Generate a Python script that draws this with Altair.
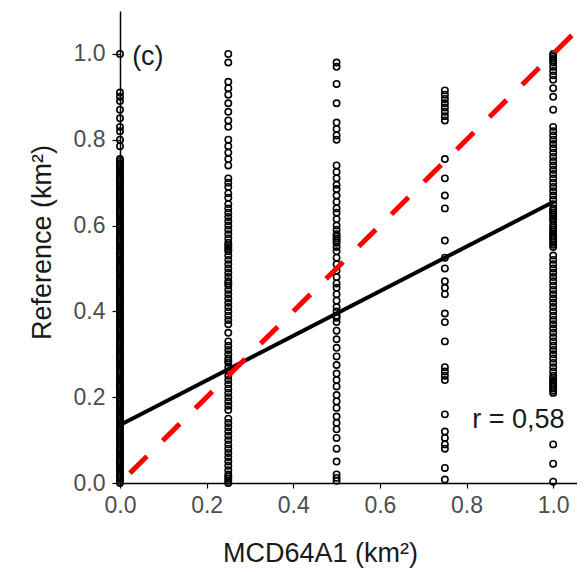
import altair as alt
import pandas as pd

# ---- data ----
y_at_000 = [1.0, 0.91, 0.90, 0.89, 0.87, 0.85, 0.83, 0.82, 0.80, 0.785,
            0.755, 0.75, 0.745, 0.74, 0.735, 0.73, 0.725, 0.72, 0.715, 0.71,
            0.705, 0.70, 0.695, 0.69, 0.685, 0.68, 0.675, 0.67, 0.665, 0.66,
            0.655, 0.65, 0.645, 0.64, 0.635, 0.63, 0.625, 0.62, 0.615, 0.61,
            0.605, 0.60, 0.595, 0.59, 0.585, 0.58, 0.575, 0.57, 0.565, 0.56,
            0.555, 0.55, 0.545, 0.54, 0.535, 0.53, 0.525, 0.52, 0.515, 0.51,
            0.505, 0.50, 0.495, 0.49, 0.485, 0.48, 0.475, 0.47, 0.465, 0.46,
            0.455, 0.45, 0.445, 0.44, 0.435, 0.43, 0.425, 0.42, 0.415, 0.41,
            0.405, 0.40, 0.395, 0.39, 0.385, 0.38, 0.375, 0.37, 0.365, 0.36,
            0.355, 0.35, 0.345, 0.34, 0.335, 0.33, 0.325, 0.32, 0.315, 0.31,
            0.305, 0.30, 0.295, 0.29, 0.285, 0.28, 0.275, 0.27, 0.265, 0.26,
            0.255, 0.25, 0.245, 0.24, 0.235, 0.23, 0.225, 0.22, 0.215, 0.21,
            0.205, 0.20, 0.195, 0.19, 0.185, 0.18, 0.175, 0.17, 0.165, 0.16,
            0.155, 0.15, 0.145, 0.14, 0.135, 0.13, 0.125, 0.12, 0.115, 0.11,
            0.105, 0.10, 0.095, 0.09, 0.085, 0.08, 0.075, 0.07, 0.065, 0.06,
            0.055, 0.05, 0.045, 0.04, 0.035, 0.03, 0.025, 0.02, 0.015, 0.01,
            0.005, 0.0]
y_at_025 = [1.0, 0.98, 0.935, 0.92, 0.905, 0.885, 0.865, 0.845, 0.83, 0.80,
            0.785, 0.77, 0.755, 0.74, 0.71, 0.70, 0.69, 0.675, 0.665, 0.65,
            0.64, 0.63, 0.62, 0.61, 0.60, 0.59, 0.58, 0.57, 0.56, 0.555,
            0.55, 0.545, 0.54, 0.53, 0.52, 0.51, 0.50, 0.49, 0.48, 0.47,
            0.465, 0.46, 0.45, 0.44, 0.43, 0.42, 0.41, 0.40, 0.39, 0.38,
            0.37, 0.35, 0.33, 0.32, 0.31, 0.30, 0.29, 0.285, 0.28, 0.27,
            0.26, 0.25, 0.24, 0.23, 0.22, 0.21, 0.20, 0.19, 0.18, 0.17,
            0.15, 0.14, 0.13, 0.12, 0.11, 0.10, 0.09, 0.08, 0.07, 0.06,
            0.05, 0.04, 0.03, 0.02, 0.015, 0.01, 0.005, 0.0]
y_at_050 = [0.98, 0.97, 0.93, 0.885, 0.84, 0.825, 0.81, 0.80, 0.74, 0.725,
            0.71, 0.695, 0.685, 0.67, 0.655, 0.64, 0.63, 0.615, 0.60, 0.59,
            0.58, 0.575, 0.57, 0.565, 0.56, 0.55, 0.54, 0.525, 0.51, 0.495,
            0.48, 0.465, 0.455, 0.44, 0.425, 0.41, 0.40, 0.39, 0.385, 0.375,
            0.355, 0.335, 0.315, 0.295, 0.275, 0.255, 0.24, 0.225, 0.205, 0.19,
            0.175, 0.155, 0.14, 0.125, 0.105, 0.08, 0.05, 0.02, 0.012, 0.005]
y_at_075 = [0.915, 0.905, 0.895, 0.885, 0.875, 0.865, 0.855, 0.845, 0.755, 0.71,
            0.67, 0.64, 0.565, 0.525, 0.50, 0.47, 0.455, 0.44, 0.395, 0.375,
            0.33, 0.27, 0.26, 0.25, 0.24, 0.16, 0.12, 0.105, 0.09, 0.08,
            0.035, 0.008]
y_at_100 = [1.0, 0.995, 0.99, 0.985, 0.98, 0.97, 0.96, 0.95, 0.94, 0.92,
            0.90, 0.87, 0.83, 0.82, 0.81, 0.80, 0.79, 0.78, 0.77, 0.76,
            0.75, 0.74, 0.73, 0.72, 0.71, 0.70, 0.69, 0.68, 0.67, 0.66,
            0.65, 0.64, 0.635, 0.63, 0.625, 0.62, 0.615, 0.61, 0.60, 0.595,
            0.59, 0.585, 0.58, 0.575, 0.57, 0.565, 0.56, 0.555, 0.55, 0.53,
            0.52, 0.51, 0.50, 0.49, 0.48, 0.47, 0.46, 0.45, 0.44, 0.43,
            0.42, 0.41, 0.40, 0.39, 0.38, 0.37, 0.36, 0.35, 0.34, 0.33,
            0.32, 0.31, 0.30, 0.29, 0.28, 0.27, 0.26, 0.25, 0.245, 0.24,
            0.235, 0.23, 0.225, 0.22, 0.215, 0.21, 0.09, 0.045, 0.003]

x_levels = [0.0, 0.25, 0.5, 0.75, 1.0]
columns = [y_at_000, y_at_025, y_at_050, y_at_075, y_at_100]

fit_x = [0.0, 1.0]
fit_y = [0.135, 0.655]
one_x = [0.023, 1.06]
one_y = [0.023, 1.06]

tick_values = [0.0, 0.2, 0.4, 0.6, 0.8, 1.0]
panel_label = "(c)"
r_label = "r = 0,58"

# ---- tables ----
pts = pd.DataFrame(
    [(xv, yv) for xv, col in zip(x_levels, columns) for yv in col],
    columns=["x", "y"],
)
fit = pd.DataFrame({"x": fit_x, "y": fit_y})
one = pd.DataFrame({"x": one_x, "y": one_y})
txt = pd.DataFrame({"x": [0.028, 0.813], "y": [0.993, 0.147], "t": [panel_label, r_label]})

FONT = "Liberation Sans"
xs = alt.Scale(domain=[0, 1.055], nice=False, zero=False)
ys = alt.Scale(domain=[0, 1.1], nice=False, zero=False)

xaxis = alt.Axis(values=tick_values, format=".1f", title="MCD64A1 (km²)",
                 tickSize=5, labelPadding=6, labelFlush=False, titleX=200, titleY=78,
                 titleBaseline="alphabetic", titleAlign="center")
yaxis = alt.Axis(values=tick_values, format=".1f", title="Reference (km²)",
                 tickSize=8, labelPadding=7, labelFlush=False, titleX=-70, titleY=231,
                 titleBaseline="alphabetic", titleAngle=-90, titleAlign="center")

points = alt.Chart(pts).mark_point(
    shape="circle", filled=False, stroke="black", strokeWidth=1.6, size=40, opacity=1
).encode(
    x=alt.X("x:Q", scale=xs, axis=xaxis),
    y=alt.Y("y:Q", scale=ys, axis=yaxis),
)

fit_line = alt.Chart(fit).mark_line(color="black", strokeWidth=4).encode(
    x=alt.X("x:Q", scale=xs), y=alt.Y("y:Q", scale=ys)
)

one_line = alt.Chart(one).mark_line(color="#ff0000", strokeWidth=5, strokeDash=[24, 22], clip=True).encode(
    x=alt.X("x:Q", scale=xs), y=alt.Y("y:Q", scale=ys)
)

labels = alt.Chart(txt).mark_text(
    align="left", baseline="middle", font=FONT, fontSize=27, color="#1a1a1a"
).encode(
    x=alt.X("x:Q", scale=xs), y=alt.Y("y:Q", scale=ys), text="t:N"
)

chart = alt.layer(points, fit_line, one_line, labels).properties(
    width=457, height=472,
    autosize=alt.AutoSizeParams(type="none"),
    padding={"left": 112, "top": 3, "right": 0, "bottom": 90},
).configure_view(stroke=None).configure_axis(
    grid=False, domainColor="black", domainWidth=1.5, tickColor="black", tickWidth=1.2,
    labelFont=FONT, labelFontSize=23, labelColor="#4d4d4d",
    titleFont=FONT, titleFontSize=27, titleColor="#1a1a1a", titleFontWeight="normal",
)

chart.save("out.html", embed_options={"renderer": "svg", "actions": False})
